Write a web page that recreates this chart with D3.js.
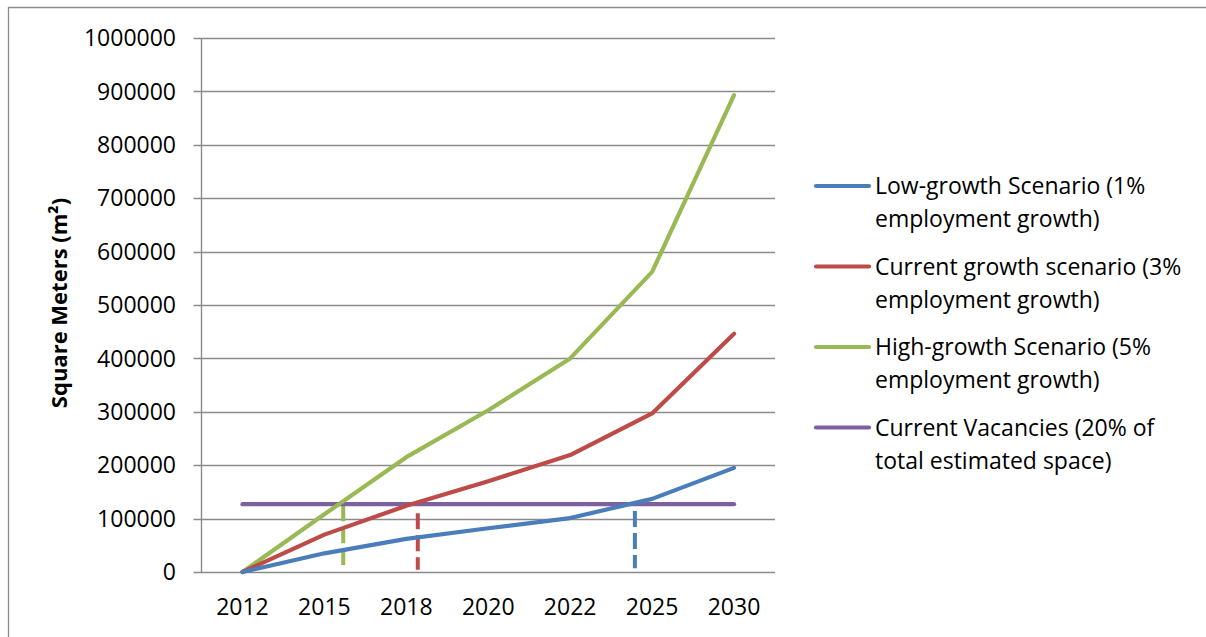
<!DOCTYPE html>
<html><head><meta charset="utf-8">
<script src="https://cdn.jsdelivr.net/npm/d3@7"></script>
<style>html,body{margin:0;padding:0;background:#fff;}svg{display:block;}</style>
</head><body>
<svg id="c" width="1206" height="637"></svg>
<script>
const categories = ["2012","2015","2018","2020","2022","2025","2030"];
const lowGrowth     = [0, 35000, 62000, 82000, 101000, 137000, 195000];
const currentGrowth = [0, 70000, 124000, 170000, 219000, 297000, 446000];
const highGrowth    = [0, 108000, 215000, 303000, 400000, 562000, 893000];
const vacancies     = [127000, 127000, 127000, 127000, 127000, 127000, 127000];
const yTicks = [0,100000,200000,300000,400000,500000,600000,700000,800000,900000,1000000];
const seriesNames = [
  ["Low-growth Scenario (1%", "employment growth)"],
  ["Current growth scenario (3%", "employment growth)"],
  ["High-growth Scenario (5%", "employment growth)"],
  ["Current Vacancies (20% of", "total estimated space)"]
];
// crossing markers: position as fractional category index, top & bottom values
const markerPos    = [1.23, 2.14, 4.79];
const markerTop    = [125000, 110000, 114000];
const markerBottom = [13000, 4000, 7000];

const colors = ["#4A7EBB","#BE4B48","#98B954","#7D60A0"];
const series = [lowGrowth, currentGrowth, highGrowth, vacancies];
const markerColors = [colors[2], colors[1], colors[0]];

const svg = d3.select("#c");
const pL = 201.5, pR = 775, pT = 38, pB = 572;
const x = d3.scaleBand().domain(categories).range([pL, pR]);
const xc = c => x(c) + x.bandwidth()/2;
const xi = d3.scaleLinear().domain([0, categories.length-1]).range([xc(categories[0]), xc(categories[categories.length-1])]);
const y = d3.scaleLinear().domain([0, 1000000]).range([pB, pT]);

// frame
svg.append("path").attr("d","M8.5,640V7.5H1210").attr("fill","none").attr("stroke","#8c8c8c").attr("stroke-width",1.3);

const font = "'Open Sans', sans-serif";
// gridlines + ticks
svg.append("g").selectAll("line").data(yTicks).join("line")
  .attr("x1", pL-8).attr("x2", pR)
  .attr("y1", d => Math.round(y(d))+0.5).attr("y2", d => Math.round(y(d))+0.5)
  .attr("stroke", "#8a8a8a").attr("stroke-width", 1.4);
svg.append("line").attr("x1", pL).attr("x2", pL).attr("y1", pT).attr("y2", pB+0.5)
  .attr("stroke", "#8a8a8a").attr("stroke-width", 1.4);

// y labels
svg.append("g").selectAll("text").data(yTicks).join("text")
  .attr("x", 176).attr("y", d => y(d)).attr("dy","0.36em")
  .attr("text-anchor","end").attr("font-family",font).attr("font-size",23).attr("fill","#000")
  .text(d => d3.format("d")(d));
// x labels
svg.append("g").selectAll("text").data(categories).join("text")
  .attr("x", d => xc(d)).attr("y", 614.5).attr("text-anchor","middle")
  .attr("font-family",font).attr("font-size",23).attr("fill","#000").text(d => d);

// y title
svg.append("text").attr("transform","translate(67,303) rotate(-90)").attr("text-anchor","middle")
  .attr("font-family",font).attr("font-weight","bold").attr("font-size",22).attr("fill","#000")
  .text("Square Meters (m²)");

// dashed markers
svg.append("g").selectAll("line").data(markerPos).join("line")
  .attr("x1", d => xi(d)).attr("x2", d => xi(d))
  .attr("y1", (d,i) => y(markerTop[i])).attr("y2", (d,i) => y(markerBottom[i]))
  .attr("stroke", (d,i) => markerColors[i]).attr("stroke-width", 4)
  .attr("stroke-dasharray", "16,6");

// lines
const line = d3.line().x((d,i) => xc(categories[i])).y(d => y(d));
const drawOrder = [3, 2, 1, 0];
svg.append("g").selectAll("path").data(drawOrder).join("path")
  .attr("d", i => line(series[i])).attr("fill","none")
  .attr("stroke", i => colors[i]).attr("stroke-width", 4.2)
  .attr("stroke-linecap","round").attr("stroke-linejoin","round");

// legend
const lg = svg.append("g");
const rowY = [186, 266.5, 347, 427.5];
seriesNames.forEach((names, i) => {
  lg.append("line").attr("x1", 816).attr("x2", 869).attr("y1", rowY[i]).attr("y2", rowY[i])
    .attr("stroke", colors[i]).attr("stroke-width", 4.2).attr("stroke-linecap","round");
  names.forEach((t, j) => {
    lg.append("text").attr("x", 875).attr("y", rowY[i] + j*33).attr("dy","0.36em")
      .attr("font-family",font).attr("font-size",23).attr("fill","#000").text(t);
  });
});
</script>
</body></html>
